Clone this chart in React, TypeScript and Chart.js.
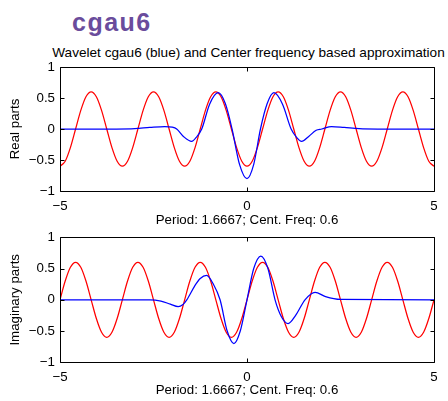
import React, { useEffect, useRef } from "react";
import { Chart, registerables } from "chart.js";

Chart.register(...registerables);

// ---------- data ----------
const mainTitle = "cgau6";
const chartTitle = "Wavelet cgau6 (blue) and Center frequency based approximation";
const xAxisLabel = "Period: 1.6667; Cent. Freq: 0.6";
const realLabel = "Real parts";
const imagLabel = "Imaginary parts";

const xTicks = [-5, 0, 5];
const yTicks = [-1, -0.5, 0, 0.5, 1];

// sample positions of the red (center-frequency) curves
const redX = [
  -5, -4.861, -4.722, -4.583, -4.444, -4.306, -4.167, -4.028, -3.889, -3.75, -3.611, -3.472,
  -3.333, -3.194, -3.056, -2.917, -2.778, -2.639, -2.5, -2.361, -2.222, -2.083, -1.944, -1.806,
  -1.667, -1.528, -1.389, -1.25, -1.111, -0.972, -0.833, -0.694, -0.556, -0.417, -0.278, -0.139,
  0,
  0.139, 0.278, 0.417, 0.556, 0.694, 0.833, 0.972, 1.111, 1.25, 1.389, 1.528, 1.667,
  1.806, 1.944, 2.083, 2.222, 2.361, 2.5, 2.639, 2.778, 2.917, 3.056, 3.194, 3.333,
  3.472, 3.611, 3.75, 3.889, 4.028, 4.167, 4.306, 4.444, 4.583, 4.722, 4.861, 5,
];

const redReal = [
  -0.6, -0.52, -0.3, 0, 0.3, 0.52, 0.6, 0.52, 0.3, 0, -0.3, -0.52,
  -0.6, -0.52, -0.3, 0, 0.3, 0.52, 0.6, 0.52, 0.3, 0, -0.3, -0.52,
  -0.6, -0.52, -0.3, 0, 0.3, 0.52, 0.6, 0.52, 0.3, 0, -0.3, -0.52,
  -0.6, -0.52, -0.3, 0, 0.3, 0.52, 0.6, 0.52, 0.3, 0, -0.3, -0.52,
  -0.6, -0.52, -0.3, 0, 0.3, 0.52, 0.6, 0.52, 0.3, 0, -0.3, -0.52,
  -0.6, -0.52, -0.3, 0, 0.3, 0.52, 0.6, 0.52, 0.3, 0, -0.3, -0.52,
  -0.6,
];

const redImag = [
  0, 0.3, 0.52, 0.6, 0.52, 0.3, 0, -0.3, -0.52, -0.6, -0.52, -0.3,
  0, 0.3, 0.52, 0.6, 0.52, 0.3, 0, -0.3, -0.52, -0.6, -0.52, -0.3,
  0, 0.3, 0.52, 0.6, 0.52, 0.3, 0, -0.3, -0.52, -0.6, -0.52, -0.3,
  0, 0.3, 0.52, 0.6, 0.52, 0.3, 0, -0.3, -0.52, -0.6, -0.52, -0.3,
  0, 0.3, 0.52, 0.6, 0.52, 0.3, 0, -0.3, -0.52, -0.6, -0.52, -0.3,
  0, 0.3, 0.52, 0.6, 0.52, 0.3, 0, -0.3, -0.52, -0.6, -0.52, -0.3,
  0,
];

// blue wavelet, real part
const blueRealX = [
  -5, -3.5, -3.0, -2.6, -2.2, -2.0, -1.88, -1.7, -1.48, -1.35, -1.21, -1.0, -0.77, -0.58,
  -0.4, -0.2, 0, 0.18, 0.36, 0.54, 0.72, 0.95, 1.18, 1.32, 1.46, 1.65, 1.85, 2.0, 2.26,
  2.6, 3.0, 3.5, 5,
];
const blueRealY = [
  0, 0, 0.005, 0.025, 0.04, 0.03, 0, -0.12, -0.2, -0.13, 0, 0.4, 0.585, 0.41,
  0, -0.57, -0.8, -0.57, 0, 0.41, 0.585, 0.4, 0, -0.13, -0.2, -0.12, -0.02, 0, 0.04,
  0.025, 0.005, 0, 0,
];

// blue wavelet, imaginary part
const blueImagX = [
  -5, -2.6, -2.3, -2.05, -1.84, -1.72, -1.61, -1.4, -1.25, -1.08, -0.9, -0.72, -0.53,
  -0.35, -0.18, 0, 0.18, 0.37, 0.56, 0.75, 0.92, 1.1, 1.3, 1.55, 1.82, 2.1, 2.5, 5,
];
const blueImagY = [
  0, 0, -0.02, -0.07, -0.11, -0.08, 0, 0.22, 0.34, 0.39, 0.25, 0, -0.5,
  -0.7, -0.5, 0, 0.5, 0.7, 0.5, 0, -0.27, -0.38, -0.25, 0, 0.12, 0.05, 0.005, 0,
];

// ---------- helpers ----------
const FONT = '"Liberation Sans", Arial, Helvetica, sans-serif';
const FS = 13.3;

const pts = (xs: number[], ys: number[]) => xs.map((x, i) => ({ x, y: ys[i] }));
const fmt = (v: number) => (v < 0 ? "\u2212" + String(-v) : String(v));

const boxPlugin = {
  id: "matlabBox",
  afterDatasetsDraw(chart: any) {
    const { ctx, chartArea } = chart;
    const xs = chart.scales.x;
    const ys = chart.scales.y;
    const l = Math.round(chartArea.left) + 0.5;
    const r = Math.round(chartArea.right) + 0.5;
    const t = Math.round(chartArea.top) + 0.5;
    const b = Math.round(chartArea.bottom) + 0.5;
    const tl = 4;
    ctx.save();
    ctx.strokeStyle = "#000";
    ctx.lineWidth = 1;
    ctx.beginPath();
    ctx.rect(l, t, r - l, b - t);
    xTicks.forEach((v) => {
      const px = Math.round(xs.getPixelForValue(v)) + 0.5;
      ctx.moveTo(px, b);
      ctx.lineTo(px, b - tl);
      ctx.moveTo(px, t);
      ctx.lineTo(px, t + tl);
    });
    yTicks.forEach((v) => {
      const py = Math.round(ys.getPixelForValue(v)) + 0.5;
      ctx.moveTo(l, py);
      ctx.lineTo(l + tl, py);
      ctx.moveTo(r, py);
      ctx.lineTo(r - tl, py);
    });
    ctx.stroke();
    ctx.restore();
  },
};

type Geom = { padTop: number; xHeight: number; xTitlePad: number };

function makeConfig(blue: any[], red: any[], yLabel: string, g: Geom): any {
  const font = { family: FONT, size: FS };
  return {
    type: "line",
    data: {
      datasets: [
        {
          data: blue,
          borderColor: "#0000ff",
          borderWidth: 1.25,
          pointRadius: 0,
          fill: false,
          cubicInterpolationMode: "monotone",
        },
        {
          data: red,
          borderColor: "#ff0000",
          borderWidth: 1.25,
          pointRadius: 0,
          fill: false,
          cubicInterpolationMode: "monotone",
        },
      ],
    },
    options: {
      animation: false,
      responsive: false,
      events: [],
      layout: { padding: { top: g.padTop, left: 4, right: 14, bottom: 0 } },
      plugins: { legend: { display: false }, tooltip: { enabled: false }, title: { display: false } },
      scales: {
        x: {
          type: "linear",
          min: -5,
          max: 5,
          grid: { display: false, drawTicks: false },
          border: { display: false },
          afterBuildTicks: (s: any) => {
            s.ticks = xTicks.map((v) => ({ value: v }));
          },
          afterFit: (s: any) => {
            s.height = g.xHeight;
          },
          ticks: { color: "#000", font, padding: 7, maxRotation: 0, callback: (v: number) => fmt(v) },
          title: {
            display: true,
            text: xAxisLabel,
            color: "#000",
            font,
            padding: { top: 0, bottom: g.xTitlePad },
          },
        },
        y: {
          type: "linear",
          min: -1,
          max: 1,
          grid: { display: false, drawTicks: false },
          border: { display: false },
          afterBuildTicks: (s: any) => {
            s.ticks = yTicks.map((v) => ({ value: v }));
          },
          afterFit: (s: any) => {
            s.width = 56;
          },
          ticks: { color: "#000", font, padding: 5, callback: (v: number) => fmt(v) },
          title: {
            display: true,
            text: yLabel,
            color: "#000",
            font,
            padding: { top: 3, bottom: 0 },
          },
        },
      },
    },
    plugins: [boxPlugin],
  };
}

function Plot(props: { blue: any[]; red: any[]; yLabel: string; g: Geom; top: number; height: number }) {
  const ref = useRef<HTMLCanvasElement | null>(null);
  useEffect(() => {
    if (!ref.current) return;
    const chart = new Chart(ref.current, makeConfig(props.blue, props.red, props.yLabel, props.g));
    return () => chart.destroy();
  }, []);
  return (
    <canvas
      ref={ref}
      width={448}
      height={props.height}
      style={{ position: "absolute", left: 0, top: props.top, width: 448, height: props.height }}
    />
  );
}

export default function App() {
  return (
    <div
      style={{
        position: "fixed",
        left: 0,
        top: 0,
        width: 448,
        height: 401,
        background: "#fff",
        overflow: "hidden",
      }}
    >
      <div
        style={{
          position: "absolute",
          left: 72,
          top: 10,
          fontFamily: FONT,
          fontWeight: "bold",
          fontSize: 25,
          lineHeight: "25px",
          letterSpacing: "1.5px",
          color: "#6a4c9c",
          whiteSpace: "nowrap",
        }}
      >
        {mainTitle}
      </div>
      <div
        style={{
          position: "absolute",
          left: 0,
          top: 45,
          width: 497,
          textAlign: "center",
          fontFamily: FONT,
          fontSize: 13.6,
          lineHeight: "16px",
          color: "#000",
          whiteSpace: "nowrap",
        }}
      >
        {chartTitle}
      </div>
      <Plot
        blue={pts(blueRealX, blueRealY)}
        red={pts(redX, redReal)}
        yLabel={realLabel}
        g={{ padTop: 67, xHeight: 39, xTitlePad: 2 }}
        top={0}
        height={230}
      />
      <Plot
        blue={pts(blueImagX, blueImagY)}
        red={pts(redX, redImag)}
        yLabel={imagLabel}
        g={{ padTop: 22.3, xHeight: 38.7, xTitlePad: 3 }}
        top={215}
        height={186}
      />
    </div>
  );
}
